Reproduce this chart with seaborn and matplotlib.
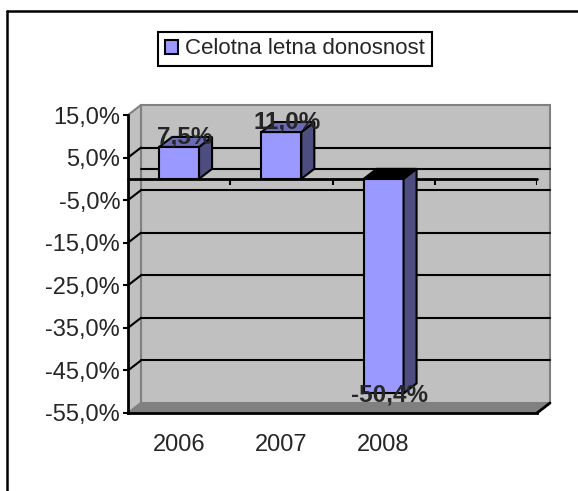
import numpy as np
import pandas as pd
import matplotlib.pyplot as plt
import seaborn as sns
from matplotlib.patches import Polygon, Rectangle, Patch
from matplotlib.lines import Line2D

# podatki
years = ['2006', '2007', '2008']
returns = [7.5, 11.0, -50.4]
value_labels = ['7,5%', '11,0%', '-50,4%']
categories = ['2006', '2007', '2008', '']
y_ticks = [15, 5, -5, -15, -25, -35, -45, -55]
y_tick_labels = ['15,0%', '5,0%', '-5,0%', '-15,0%', '-25,0%', '-35,0%', '-45,0%', '-55,0%']
series_name = 'Celotna letna donosnost'

sns.set_style('white')
plt.rcParams['font.family'] = ['Liberation Sans', 'DejaVu Sans']

W, H, DPI = 578, 491, 100
fig = plt.figure(figsize=(W / DPI, H / DPI), dpi=DPI)
ax = fig.add_axes([128 / W, 1 - 413 / H, 409 / W, 298 / H])

df = pd.DataFrame({'leto': years, 'donosnost': returns})
sns.barplot(data=df, x='leto', y='donosnost', order=categories, color='#9999FF',
            saturation=1, width=0.39, edgecolor='black', linewidth=1.5,
            errorbar=None, ax=ax, zorder=3)
bars = list(ax.patches)

ax.set_xlim(-0.5, 3.5)
ax.set_ylim(-55, 15)


def px_to_data(dx_px, dy_px):
    """pretvori zamik v pikslih v enote podatkov"""
    p0 = ax.transData.transform((0, 0))
    p1 = ax.transData.inverted().transform(p0 + np.array([dx_px, dy_px]))
    return p1[0], p1[1]


dx, dy = px_to_data(13, 10)
_, tick_dy = px_to_data(0, 6)
x0, x1 = -0.5, 3.5
y0, y1 = -55, 15

# stene in tla
ax.add_patch(Rectangle((x0 + dx, y0 + dy), x1 - x0, y1 - y0, facecolor='#C0C0C0',
                       edgecolor='#808080', lw=1.5, zorder=0, clip_on=False))
ax.add_patch(Polygon([(x0, y0), (x0, y1), (x0 + dx, y1 + dy), (x0 + dx, y0 + dy)],
                     closed=True, facecolor='#C0C0C0', edgecolor='none', zorder=0.2, clip_on=False))
ax.plot([x0 + dx, x0 + dx], [y0 + dy, y1 + dy], color='#808080', lw=1.5, zorder=0.3, clip_on=False)
ax.plot([x0, x0 + dx], [y1, y1 + dy], color='#808080', lw=1.5, zorder=0.3, clip_on=False)

# mreža
for v in [5, 0, -5, -15, -25, -35, -45]:
    ax.plot([x0 + dx, x1 + dx], [v + dy, v + dy], color='black', lw=1.5, zorder=0.5, clip_on=False)
    if v != 0:
        ax.plot([x0, x0 + dx], [v, v + dy], color='black', lw=1.5, zorder=0.5, clip_on=False)

ax.add_patch(Polygon([(x0, y0), (x1, y0), (x1 + dx, y0 + dy), (x0 + dx, y0 + dy)],
                     closed=True, facecolor='#808080', edgecolor='#808080', lw=1, zorder=0.6, clip_on=False))
ax.plot([x0, x0 + dx], [y0, y0 + dy], color='#808080', lw=1.5, zorder=0.7, clip_on=False)
ax.plot([x1, x1 + dx], [y0, y0 + dy], color='black', lw=2, zorder=0.7, clip_on=False)

# os pri 0
ax.plot([x0, x1], [0, 0], color='black', lw=2, zorder=1, clip_on=False)
ax.vlines([0.5, 1.5, 2.5, 3.5], -tick_dy, 0, color='black', lw=1.5, zorder=1)

# 3D stranice stolpcev
for bar, val, lab in zip(bars, returns, value_labels):
    bx, bw = bar.get_x(), bar.get_width()
    top, bot = max(0, val), min(0, val)
    ax.add_patch(Polygon([(bx + bw, bot), (bx + bw, top), (bx + bw + dx, top + dy), (bx + bw + dx, bot + dy)],
                         closed=True, facecolor='#4D4D80', edgecolor='black', lw=1.5, zorder=3))
    ax.add_patch(Polygon([(bx, top), (bx + bw, top), (bx + bw + dx, top + dy), (bx + dx, top + dy)],
                         closed=True, facecolor='#6B6BB3' if val > 0 else 'black',
                         edgecolor='black', lw=1.5, zorder=3))
    ax.annotate(lab, (bx + bw / 2, val), xytext=(4.3, 7.2 if val > 0 else -1.4),
                textcoords='offset points', ha='center', va='center',
                fontsize=17.5, fontweight='bold', zorder=5, annotation_clip=False)

# osi
ax.set_xticks(range(len(categories)), categories)
ax.set_xticks(np.arange(-0.5, 4, 1), minor=True)
ax.set_yticks(y_ticks, y_tick_labels)
ax.set_xlabel('')
ax.set_ylabel('')
ax.tick_params(axis='x', which='major', length=0, pad=15, labelsize=17)
ax.tick_params(axis='x', which='minor', length=4.3, width=1.5, direction='out', color='black')
ax.tick_params(axis='y', length=3.6, width=1.5, pad=2, labelsize=17, color='black', left=True)
for s in ['top', 'right']:
    ax.spines[s].set_visible(False)
for s in ['left', 'bottom']:
    ax.spines[s].set_color('black')
    ax.spines[s].set_linewidth(2)
ax.set_facecolor('none')

# legenda
handles = [Patch(facecolor='#9999FF', edgecolor='black', linewidth=1.5, label=series_name)]
leg = fig.legend(handles=handles, loc='center', bbox_to_anchor=(295 / W, 1 - 49 / H),
                 frameon=True, fancybox=False, edgecolor='black', framealpha=1, fontsize=16,
                 handlelength=0.6, handleheight=0.6, handletextpad=0.3, borderpad=0.3)
leg.get_frame().set_linewidth(1.5)

# okvir
fig.add_artist(Line2D([7 / W, 1], [1 - 11 / H, 1 - 11 / H], transform=fig.transFigure, color='black', lw=1.8))
fig.add_artist(Line2D([7 / W, 7 / W], [0, 1 - 11 / H], transform=fig.transFigure, color='black', lw=1.8))

fig.savefig('out.png', dpi=DPI)
